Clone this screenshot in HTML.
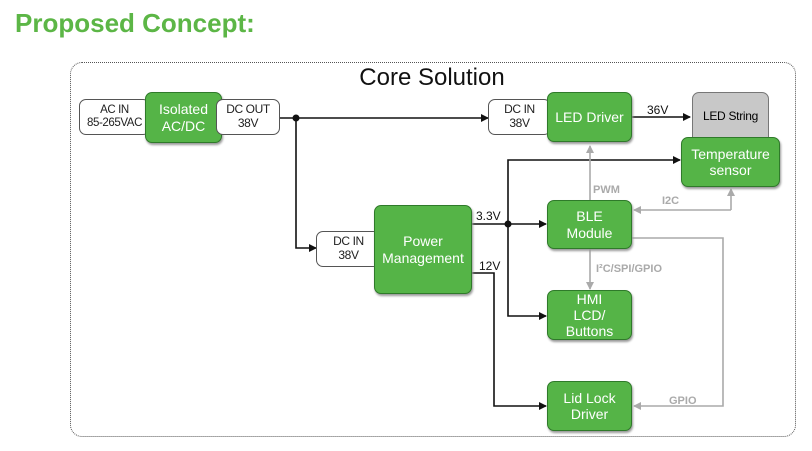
<!DOCTYPE html>
<html><head><style>
body{margin:0;width:812px;height:451px;background:#fff;overflow:hidden;font-family:"Liberation Sans",sans-serif}
.t{position:absolute;left:15px;top:8px;font-size:26px;font-weight:bold;color:#5cb646}
.b{position:absolute;box-sizing:border-box;border-radius:7px;display:flex;align-items:center;justify-content:center;text-align:center;line-height:1.15}
.g{background:#55b447;border:1.5px solid #2f7a2a;color:#fff;font-size:14px;box-shadow:1px 2px 2px #999}
.w{background:#fff;border:1.5px solid #555;color:#222;font-size:12px;letter-spacing:-0.4px}
</style></head><body>
<div class="t">Proposed Concept:</div>
<div style="position:absolute;left:70px;top:62px;width:726px;height:375px;border:1.5px dotted #555;border-radius:12px;box-sizing:border-box"></div>
<div style="position:absolute;left:0;width:864px;top:64px;text-align:center;font-size:24px;color:#111">Core Solution</div>
<svg width="812" height="451" style="position:absolute;left:0;top:0">
<defs><marker id="a" markerWidth="8" markerHeight="8" refX="7" refY="4" orient="auto" markerUnits="userSpaceOnUse"><path d="M0,0L8,4L0,8z" fill="#111"/></marker>
<marker id="ga" markerWidth="8" markerHeight="8" refX="7" refY="4" orient="auto" markerUnits="userSpaceOnUse"><path d="M0,0L8,4L0,8z" fill="#aaa"/></marker></defs>
<g stroke="#111" stroke-width="1.6" fill="none">
<path d="M280,118H488" marker-end="url(#a)"/>
<path d="M296,118V248H316" marker-end="url(#a)"/>
<path d="M632,117H690" marker-end="url(#a)"/>
<path d="M472,224H546" marker-end="url(#a)"/>
<path d="M508,224V160H680" marker-end="url(#a)"/>
<path d="M508,224V316H546" marker-end="url(#a)"/>
<path d="M472,273H494V406H546" marker-end="url(#a)"/>
</g>
<circle cx="296" cy="118" r="3.5" fill="#111"/><circle cx="508" cy="224" r="3.5" fill="#111"/>
<g stroke="#aaa" stroke-width="1.6" fill="none">
<path d="M590,200V146" marker-end="url(#ga)"/>
<path d="M590,249V289" marker-end="url(#ga)"/>
<path d="M731,210V189" marker-end="url(#ga)"/>
<path d="M731,210H634" marker-end="url(#ga)"/>
<path d="M632,238H723V406H634" marker-end="url(#ga)"/>
</g>
<g font-family="Liberation Sans" font-size="11" fill="#aaa" font-weight="bold">
<text x="593" y="193">PWM</text><text x="662" y="204">I2C</text>
<text x="596" y="272">I²C/SPI/GPIO</text><text x="669" y="404">GPIO</text></g>
<g font-family="Liberation Sans" font-size="12" fill="#111">
<text x="647" y="114">36V</text><text x="476" y="220">3.3V</text><text x="479" y="270">12V</text></g>
</svg>
<div class="b w" style="left:79px;top:99px;width:71px;height:36px;font-size:11.5px">AC IN<br>85-265VAC</div>
<div class="b g" style="left:145px;top:92px;width:77px;height:51px">Isolated<br>AC/DC</div>
<div class="b w" style="left:216px;top:99px;width:64px;height:36px">DC OUT<br>38V</div>
<div class="b w" style="left:488px;top:99px;width:63px;height:36px">DC IN<br>38V</div>
<div class="b g" style="left:547px;top:92px;width:85px;height:50px">LED Driver</div>
<div class="b" style="left:692px;top:92px;width:77px;height:52px;background:#c8c8c8;border:1.5px solid #777;font-size:12px;letter-spacing:-0.3px;align-items:flex-start;padding-top:17px">LED String</div>
<div class="b g" style="left:681px;top:137px;width:99px;height:50px">Temperature<br>sensor</div>
<div class="b w" style="left:316px;top:231px;width:65px;height:36px">DC IN<br>38V</div>
<div class="b g" style="left:374px;top:205px;width:98px;height:89px">Power<br>Management</div>
<div class="b g" style="left:547px;top:200px;width:85px;height:49px">BLE<br>Module</div>
<div class="b g" style="left:547px;top:290px;width:85px;height:50px">HMI<br>LCD/<br>Buttons</div>
<div class="b g" style="left:547px;top:381px;width:85px;height:50px">Lid Lock<br>Driver</div>
</body></html>
